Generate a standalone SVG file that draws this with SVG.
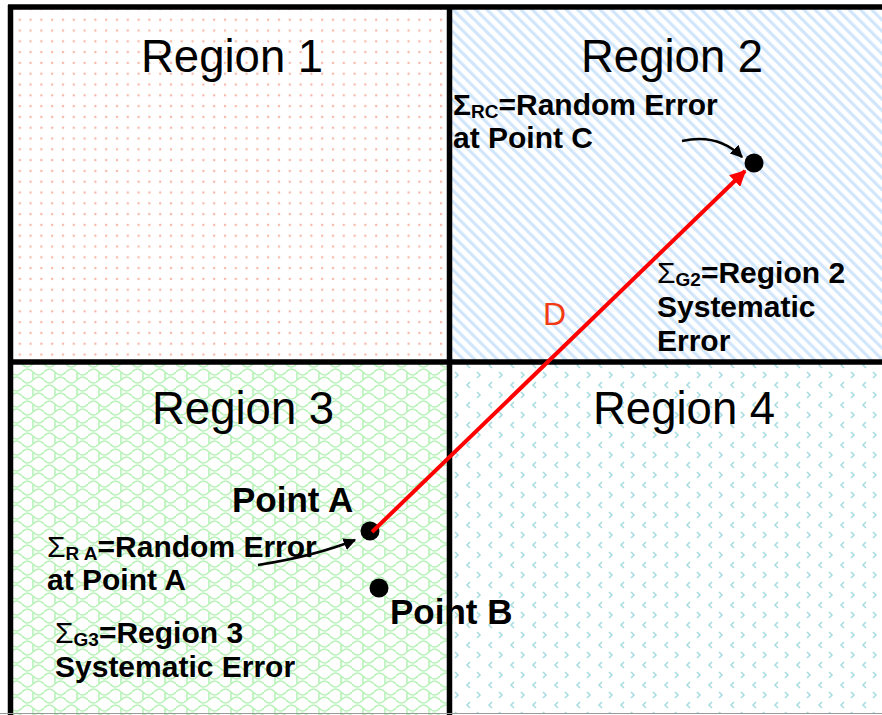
<svg xmlns="http://www.w3.org/2000/svg" width="882" height="715" viewBox="0 0 882 715">
<defs>
<pattern id="dots" width="10.8" height="10.8" patternUnits="userSpaceOnUse" x="4" y="4">
<circle cx="5" cy="5" r="1.2" fill="#f7b6a6"/>
</pattern>
<pattern id="stripes" width="8" height="8" patternUnits="userSpaceOnUse" patternTransform="rotate(-45)">
<rect width="3.2" height="8" fill="#d2e6fb"/>
</pattern>
<pattern id="scales" width="22" height="16" patternUnits="userSpaceOnUse">
<path d="M0,4 Q5.5,-2 11,4 T22,4 M0,12 Q5.5,18 11,12 T22,12 M11,4 L11,12" fill="none" stroke="#b9f2b9" stroke-width="1.6"/>
</pattern>
<pattern id="chev" width="22" height="20" patternUnits="userSpaceOnUse">
<path d="M8,2 L5,5 L8,8 M15,12 L18,15 L15,18" fill="none" stroke="#a9dde2" stroke-width="1.6"/>
</pattern>
<marker id="ah" viewBox="0 0 10 10" refX="9" refY="5" markerWidth="5" markerHeight="5" orient="auto" markerUnits="strokeWidth">
<path d="M0,0 L10,5 L0,10 z" fill="#000"/>
</marker>
<marker id="ahr" viewBox="0 0 10 10" refX="9" refY="5" markerWidth="4" markerHeight="4" orient="auto" markerUnits="strokeWidth">
<path d="M0,0 L10,5 L0,10 z" fill="#ff0000"/>
</marker>
<style>
.reg{font-family:"Liberation Sans",Arial,sans-serif;font-size:45.5px;fill:#000}
.lab{font-family:"Liberation Sans",Arial,sans-serif;font-size:30px;font-weight:bold;fill:#000}
.pt{font-size:35px}
.sub{font-size:19px}
.sig{font-weight:normal}
.frame{stroke:#000;stroke-width:5.5;fill:none}
.dot{fill:#000}
</style>
</defs>
<rect width="882" height="715" fill="#fff"/>
<g id="region1">
<rect x="11" y="7" width="438" height="355" fill="url(#dots)"/>
<text class="reg" x="141" y="72">Region 1</text>
</g>
<g id="region2">
<rect x="449" y="7" width="433" height="355" fill="url(#stripes)"/>
<text class="reg" x="581" y="72">Region 2</text>
</g>
<g id="region3">
<rect x="11" y="362" width="438" height="353" fill="url(#scales)"/>
<text class="reg" x="152" y="424">Region 3</text>
</g>
<g id="region4">
<rect x="449" y="362" width="433" height="351" fill="url(#chev)"/>
<text class="reg" x="593" y="424">Region 4</text>
</g>
<g id="frame">
<line class="frame" x1="8" y1="7" x2="882" y2="7"/>
<line class="frame" x1="10.5" y1="5" x2="10.5" y2="715"/>
<line class="frame" x1="449.5" y1="5" x2="449.5" y2="715"/>
<line class="frame" x1="8" y1="362" x2="882" y2="362"/>
<line x1="0" y1="713.5" x2="882" y2="713.5" stroke="#999" stroke-width="1"/>
</g>
<g id="labelC">
<text class="lab" x="453" y="115">Σ<tspan class="sub" dy="3">RC</tspan><tspan dy="-3">=Random Error</tspan></text>
<text class="lab" x="453" y="148">at Point C</text>
</g>
<g id="labelG2">
<text class="lab" x="657" y="283"><tspan class="sig">Σ</tspan><tspan class="sub" dy="3">G2</tspan><tspan dy="-3">=Region 2</tspan></text>
<text class="lab" x="657" y="317">Systematic</text>
<text class="lab" x="657" y="351">Error</text>
</g>
<g id="labelD">
<text x="543" y="325" font-family="Liberation Sans, Arial, sans-serif" font-size="32" fill="#f23a12">D</text>
</g>
<g id="labelRA">
<text class="lab" x="47" y="557"><tspan class="sig">Σ</tspan><tspan class="sub" dy="3">R A</tspan><tspan dy="-3">=Random Error</tspan></text>
<text class="lab" x="47" y="590">at Point A</text>
</g>
<g id="labelG3">
<text class="lab" x="55" y="643"><tspan class="sig">Σ</tspan><tspan class="sub" dy="3">G3</tspan><tspan dy="-3">=Region 3</tspan></text>
<text class="lab" x="55" y="677">Systematic Error</text>
</g>
<g id="pointA">
<circle class="dot" cx="370" cy="531" r="9.5"/>
<text class="lab pt" x="232" y="512">Point A</text>
</g>
<g id="pointB">
<circle class="dot" cx="379" cy="588" r="9.5"/>
<text class="lab pt" x="390" y="624">Point B</text>
</g>
<g id="pointC">
<circle class="dot" cx="754" cy="163" r="9.5"/>
</g>
<g id="connectors">
<line x1="372" y1="532" x2="745" y2="171" stroke="#ff0000" stroke-width="4" marker-end="url(#ahr)"/>
<path d="M682,141 Q718,133 742,157" fill="none" stroke="#000" stroke-width="2.5" marker-end="url(#ah)"/>
<path d="M258,565 Q315,556 355,540" fill="none" stroke="#000" stroke-width="2.5" marker-end="url(#ah)"/>
</g>
</svg>
